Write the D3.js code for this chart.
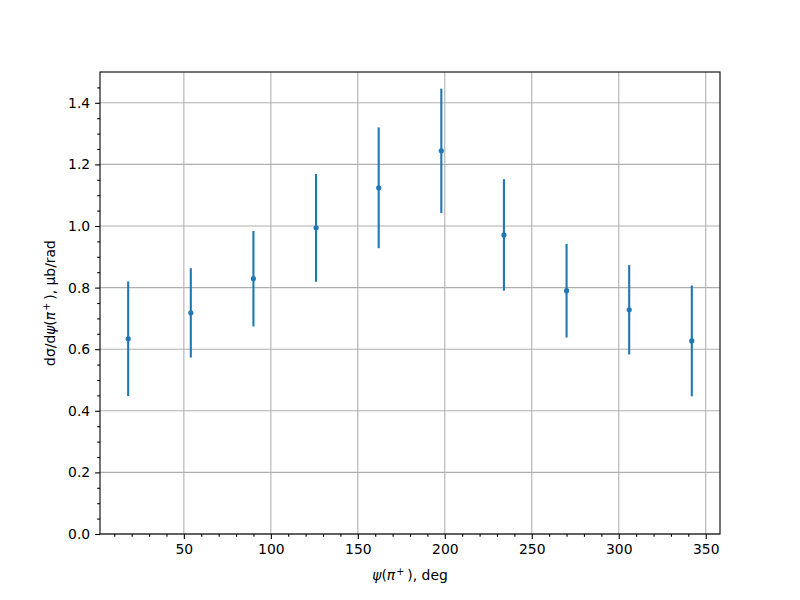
<!DOCTYPE html>
<html lang="en">
<head>
<meta charset="UTF-8">
<title>dsigma/dpsi</title>
<script src="https://cdn.jsdelivr.net/npm/d3@7"></script>
<style>
body{margin:0;background:#fff}
svg{font-family:"DejaVu Sans",sans-serif}
</style>
</head>
<body>
<div id="chart"></div>
<script>
// data
var psi=[18,54,90,126,162,198,234,270,306,342]
var dsig=[0.634,0.718,0.829,0.994,1.124,1.244,0.971,0.790,0.728,0.627]
var err=[0.186,0.145,0.155,0.175,0.196,0.202,0.181,0.152,0.145,0.180]
var xTicks=[50,100,150,200,250,300,350]
var yTicks=[0,0.2,0.4,0.6,0.8,1.0,1.2,1.4]

var W=800,H=600
var margin={top:72,right:80,bottom:66,left:100}
var w=W-margin.left-margin.right
var h=H-margin.top-margin.bottom
var blue='#1f77b4'

var svg=d3.select('#chart').append('svg').attr('width',W).attr('height',H)
var g=svg.append('g').attr('transform','translate('+margin.left+','+margin.top+')')

var x=d3.scaleLinear().domain([1.8,358.2]).range([0,w])
var y=d3.scaleLinear().domain([0,1.5]).range([h,0])

// grid
g.append('g').selectAll('line').data(xTicks).enter().append('line')
	.attr('x1',function(d){return x(d)}).attr('x2',function(d){return x(d)})
	.attr('y1',0).attr('y2',h)
	.attr('stroke','#b0b0b0').attr('stroke-width',1.1)
g.append('g').selectAll('line').data(yTicks).enter().append('line')
	.attr('y1',function(d){return y(d)}).attr('y2',function(d){return y(d)})
	.attr('x1',0).attr('x2',w)
	.attr('stroke','#b0b0b0').attr('stroke-width',1.1)

// axes
var xMinor=d3.range(10,360,10).filter(function(d){return d%50!=0})
var yMinor=d3.range(0.05,1.5,0.05).filter(function(d){return Math.abs(d*5-Math.round(d*5))>1e-6})
g.append('g').attr('transform','translate(0,'+h+')')
	.call(d3.axisBottom(x).tickValues(xTicks).tickSize(4.9).tickPadding(4.9).tickFormat(d3.format('d')))
g.append('g').attr('transform','translate(0,'+h+')')
	.call(d3.axisBottom(x).tickValues(xMinor).tickSize(2.8).tickFormat(''))
g.append('g')
	.call(d3.axisLeft(y).tickValues(yTicks).tickSize(4.9).tickPadding(4.9).tickFormat(d3.format('.1f')))
g.append('g')
	.call(d3.axisLeft(y).tickValues(yMinor).tickSize(2.8).tickFormat(''))
g.selectAll('.domain').remove()
g.selectAll('.tick line').attr('stroke','#000').attr('stroke-width',1.1)
g.selectAll('.tick text').attr('font-size','13.9px').attr('fill','#000').attr('font-family','DejaVu Sans')

// frame
g.append('rect').attr('width',w).attr('height',h)
	.attr('fill','none').attr('stroke','#000').attr('stroke-width',1.1)

// error bars
g.selectAll('.eb').data(psi).enter().append('line').attr('class','eb')
	.attr('x1',function(d){return x(d)}).attr('x2',function(d){return x(d)})
	.attr('y1',function(d,i){return y(dsig[i]-err[i])})
	.attr('y2',function(d,i){return y(dsig[i]+err[i])})
	.attr('stroke',blue).attr('stroke-width',2.1)
g.selectAll('.pt').data(psi).enter().append('circle').attr('class','pt')
	.attr('cx',function(d){return x(d)})
	.attr('cy',function(d,i){return y(dsig[i])})
	.attr('r',2.6).attr('fill',blue)

// labels
var xl=svg.append('text').attr('x',margin.left+w/2).attr('y',580)
	.attr('text-anchor','middle').attr('font-size','13.9px')
xl.append('tspan').attr('font-style','italic').text('ψ')
xl.append('tspan').text('(')
xl.append('tspan').attr('font-style','italic').text('π')
xl.append('tspan').attr('font-size','9.7px').attr('dx',1).attr('dy',-5).text('+')
xl.append('tspan').attr('dx',3).attr('dy',5).text('), deg')

var yl=svg.append('text').attr('transform','translate(55,'+(margin.top+h/2)+') rotate(-90)')
	.attr('text-anchor','middle').attr('font-size','13.9px')
yl.append('tspan').text('dσ/d')
yl.append('tspan').attr('font-style','italic').text('ψ')
yl.append('tspan').text('(')
yl.append('tspan').attr('font-style','italic').text('π')
yl.append('tspan').attr('font-size','9.7px').attr('dx',1).attr('dy',-5).text('+')
yl.append('tspan').attr('dx',3).attr('dy',5).text('), μb/rad')
</script>
</body>
</html>
